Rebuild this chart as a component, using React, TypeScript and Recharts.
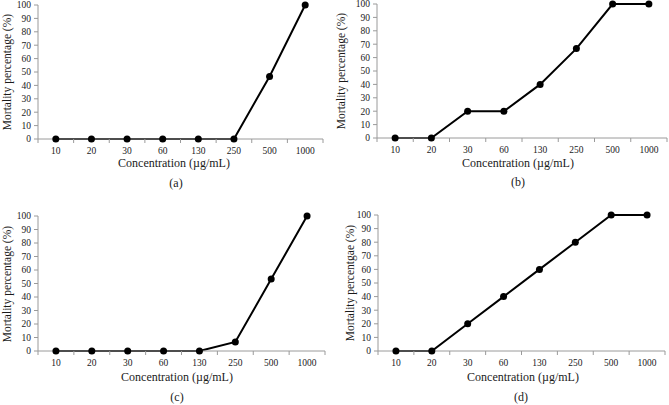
import React from "react";
import { LineChart, Line, XAxis, YAxis } from "recharts";

const concentrations = ["10", "20", "30", "60", "130", "250", "500", "1000"];
const mortalityA = [0, 0, 0, 0, 0, 0, 46.7, 100];
const mortalityB = [0, 0, 20, 20, 40, 66.7, 100, 100];
const mortalityC = [0, 0, 0, 0, 0, 6.7, 53.3, 100];
const mortalityD = [0, 0, 20, 40, 60, 80, 100, 100];
const yTicks = [0, 10, 20, 30, 40, 50, 60, 70, 80, 90, 100];

const FONT = "Liberation Serif";
const AXIS = "#9a9a9a";
const TEXT = "#1a1a1a";

const toRows = (values: number[]) => concentrations.map((c, i) => ({ conc: c, value: values[i] }));

// tick label at band centre, tick marks on the band boundaries
const makeTick = (bw: number, count: number) => (props: any) => {
  const { x, y, payload, index } = props;
  return (
    <g>
      <line x1={x - bw / 2} x2={x - bw / 2} y1={y} y2={y + 4} stroke={AXIS} />
      {index === count - 1 && <line x1={x + bw / 2} x2={x + bw / 2} y1={y} y2={y + 4} stroke={AXIS} />}
      <text x={x} y={y + 14.5} textAnchor="middle" fontSize={9.5} fill={TEXT} style={{ fontFamily: FONT }}>
        {payload.value}
      </text>
    </g>
  );
};

interface PanelProps {
  left: number;
  top: number;
  width: number;
  height: number;
  margin: { top: number; right: number; bottom: number; left: number };
  values: number[];
  yLabel: string;
  yLabelX: number;
  xLabelX: number;
  xLabelY: number;
  caption: string;
  captionX: number;
  captionY: number;
}

function Panel(p: PanelProps) {
  const plotW = p.width - p.margin.left - p.margin.right - 30;
  const plotTop = p.top + p.margin.top;
  const plotBottom = p.top + p.height - p.margin.bottom - 20;
  const yMid = (plotTop + plotBottom) / 2;
  return (
    <>
      <div style={{ position: "absolute", left: p.left, top: p.top }}>
        <LineChart width={p.width} height={p.height} data={toRows(p.values)} margin={p.margin}>
          <XAxis
            dataKey="conc"
            type="category"
            scale="band"
            interval={0}
            height={20}
            tickSize={0}
            tickMargin={0}
            tickLine={false}
            stroke={AXIS}
            tick={makeTick(plotW / concentrations.length, concentrations.length)}
          />
          <YAxis
            width={30}
            domain={[0, 100]}
            ticks={yTicks}
            interval={0}
            tickSize={4}
            tickMargin={3}
            stroke={AXIS}
            tick={{ fontSize: 9.5, fill: TEXT, style: { fontFamily: FONT } }}
          />
          <Line
            dataKey="value"
            stroke="#000"
            strokeWidth={2}
            dot={{ r: 3.5, fill: "#000", stroke: "#000", strokeWidth: 0 }}
            isAnimationActive={false}
          />
        </LineChart>
      </div>
      <div
        style={{
          position: "absolute",
          left: p.yLabelX - 100,
          top: yMid - 7,
          width: 200,
          height: 14,
          lineHeight: "14px",
          textAlign: "center",
          fontSize: 11.5,
          color: TEXT,
          transform: "rotate(-90deg)",
          whiteSpace: "nowrap",
        }}
      >
        {p.yLabel}
      </div>
      <div
        style={{
          position: "absolute",
          left: p.xLabelX - 100,
          top: p.xLabelY - 7,
          width: 200,
          lineHeight: "14px",
          textAlign: "center",
          fontSize: 12,
          color: TEXT,
          whiteSpace: "nowrap",
        }}
      >
        Concentration (µg/mL)
      </div>
      <div
        style={{
          position: "absolute",
          left: p.captionX - 30,
          top: p.captionY - 8,
          width: 60,
          lineHeight: "16px",
          textAlign: "center",
          fontSize: 12,
          color: TEXT,
        }}
      >
        {p.caption}
      </div>
    </>
  );
}

export default function App() {
  return (
    <div
      style={{
        position: "absolute",
        left: 0,
        top: 0,
        width: 669,
        height: 405,
        background: "#fff",
        fontFamily: FONT,
      }}
    >
      <Panel
        left={0}
        top={0}
        width={335}
        height={200}
        margin={{ top: 5, right: 12, bottom: 41, left: 8 }}
        values={mortalityA}
        yLabel="Mortality percentage (%)"
        yLabelX={7}
        xLabelX={174}
        xLabelY={163}
        caption="(a)"
        captionX={176}
        captionY={183}
      />
      <Panel
        left={335}
        top={0}
        width={334}
        height={200}
        margin={{ top: 4, right: 2, bottom: 42, left: 12 }}
        values={mortalityB}
        yLabel="Mortality percentage (%)"
        yLabelX={341}
        xLabelX={518}
        xLabelY={163}
        caption="(b)"
        captionX={518}
        captionY={182}
      />
      <Panel
        left={0}
        top={200}
        width={335}
        height={205}
        margin={{ top: 16, right: 10, bottom: 34, left: 8 }}
        values={mortalityC}
        yLabel="Mortality percentage (%)"
        yLabelX={7}
        xLabelX={177}
        xLabelY={377}
        caption="(c)"
        captionX={177}
        captionY={397}
      />
      <Panel
        left={335}
        top={200}
        width={334}
        height={205}
        margin={{ top: 15, right: 4, bottom: 34, left: 13 }}
        values={mortalityD}
        yLabel="Mortality percentgae (%)"
        yLabelX={350}
        xLabelX={523}
        xLabelY={377}
        caption="(d)"
        captionX={521}
        captionY={397}
      />
    </div>
  );
}
